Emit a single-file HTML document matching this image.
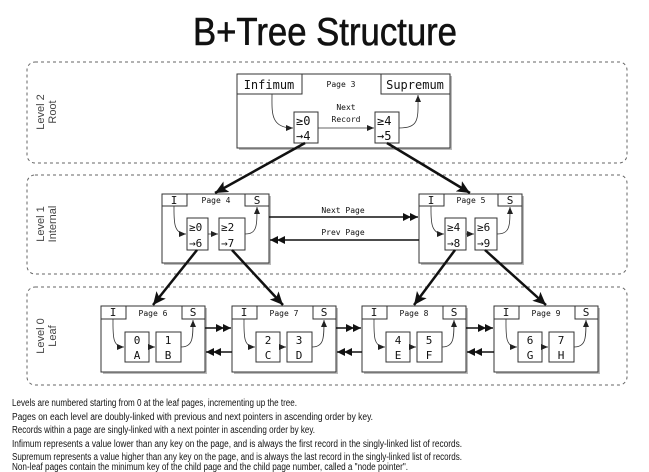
<!DOCTYPE html>
<html><head><meta charset="utf-8"><style>
html,body{margin:0;padding:0;background:#fff;}
svg{display:block;}
.m{font-family:"DejaVu Sans Mono","Liberation Mono",monospace;}
.s{font-family:"Liberation Sans",sans-serif;}
</style></head><body>
<svg width="649" height="472" viewBox="0 0 649 472" xmlns="http://www.w3.org/2000/svg">
<defs>
<marker id="a" markerWidth="8" markerHeight="8" refX="7" refY="4" orient="auto" markerUnits="userSpaceOnUse"><path d="M0,1 L7,4 L0,7 z" fill="#222"/></marker>
<marker id="b" markerWidth="14" markerHeight="14" refX="13" refY="6" orient="auto" markerUnits="userSpaceOnUse"><path d="M0,0 L13,6 L0,12 L3,6 z" fill="#111"/></marker>
<marker id="d" markerWidth="16" markerHeight="10" refX="15" refY="4" orient="auto" markerUnits="userSpaceOnUse"><path d="M0,0 L8,4 L0,8 z M7,0 L15,4 L7,8 z" fill="#111"/></marker>
</defs>
<text x="193" y="45" class="s" font-size="39" fill="#111" stroke="#111" stroke-width="0.6" textLength="264" lengthAdjust="spacingAndGlyphs">B+Tree Structure</text>

<g fill="none" stroke="#666" stroke-dasharray="3,3" stroke-width="1">
<rect x="27" y="62" width="600" height="101" rx="8"/>
<rect x="27" y="175" width="600" height="99" rx="8"/>
<rect x="27" y="287" width="600" height="98" rx="8"/>
</g>
<g class="s" font-size="11" fill="#444" text-anchor="middle">
<text transform="translate(44,112) rotate(-90)">Level 2</text>
<text transform="translate(56,112) rotate(-90)">Root</text>
<text transform="translate(44,224) rotate(-90)">Level 1</text>
<text transform="translate(56,224) rotate(-90)">Internal</text>
<text transform="translate(44,336) rotate(-90)">Level 0</text>
<text transform="translate(56,336) rotate(-90)">Leaf</text>
</g>

<g stroke="#333" stroke-width="1" fill="#fff">
<rect x="239" y="76" width="213" height="74" fill="#bbb" stroke="none"/>
<rect x="237" y="74" width="213" height="74"/>
<rect x="237" y="74" width="65" height="20"/>
<rect x="381" y="74" width="69" height="20"/>
<rect x="294" y="112" width="24" height="31"/>
<rect x="375" y="112" width="24" height="31"/>
<rect x="164" y="196" width="107" height="69" fill="#bbb" stroke="none"/>
<rect x="162" y="194" width="107" height="69"/>
<rect x="162" y="194" width="25" height="12"/>
<rect x="245" y="194" width="24" height="12"/>
<rect x="187" y="218" width="21" height="32"/>
<rect x="219" y="218" width="26" height="32"/>
<rect x="421" y="196" width="103" height="69" fill="#bbb" stroke="none"/>
<rect x="419" y="194" width="103" height="69"/>
<rect x="419" y="194" width="25" height="12"/>
<rect x="498" y="194" width="24" height="12"/>
<rect x="445" y="218" width="21" height="32"/>
<rect x="475" y="218" width="22" height="32"/>
</g>
<g class="m" fill="#111">
<text x="269" y="89" font-size="12" text-anchor="middle">Infimum</text>
<text x="415" y="89" font-size="12" text-anchor="middle">Supremum</text>
<text x="341" y="87" font-size="8" text-anchor="middle">Page 3</text>
<text x="346" y="110" font-size="8" text-anchor="middle">Next</text>
<text x="346" y="122" font-size="8" text-anchor="middle">Record</text>
<text x="296" y="125" font-size="12">≥0</text><text x="296" y="140" font-size="12">→4</text>
<text x="377" y="125" font-size="12">≥4</text><text x="377" y="140" font-size="12">→5</text>
<text x="174" y="204" font-size="11" text-anchor="middle">I</text>
<text x="257" y="204" font-size="11" text-anchor="middle">S</text>
<text x="216" y="203" font-size="8" text-anchor="middle">Page 4</text>
<text x="189" y="231" font-size="11">≥0</text><text x="189" y="247" font-size="11">→6</text>
<text x="221" y="231" font-size="11">≥2</text><text x="221" y="247" font-size="11">→7</text>
<text x="431" y="204" font-size="11" text-anchor="middle">I</text>
<text x="510" y="204" font-size="11" text-anchor="middle">S</text>
<text x="471" y="203" font-size="8" text-anchor="middle">Page 5</text>
<text x="447" y="231" font-size="11">≥4</text><text x="447" y="247" font-size="11">→8</text>
<text x="477" y="231" font-size="11">≥6</text><text x="477" y="247" font-size="11">→9</text>
<text x="343" y="213" font-size="8" text-anchor="middle">Next Page</text>
<text x="343" y="235" font-size="8" text-anchor="middle">Prev Page</text>
</g>

<g stroke="#333" stroke-width="1" fill="#fff">
<rect x="103" y="308" width="104" height="66" fill="#bbb" stroke="none"/>
<rect x="101" y="306" width="104" height="66"/>
<rect x="101" y="306" width="25" height="13"/><rect x="182" y="306" width="23" height="13"/>
<rect x="125" y="332" width="24" height="30"/><rect x="156" y="332" width="25" height="30"/>
<rect x="234" y="308" width="104" height="66" fill="#bbb" stroke="none"/>
<rect x="232" y="306" width="104" height="66"/>
<rect x="232" y="306" width="25" height="13"/><rect x="313" y="306" width="23" height="13"/>
<rect x="256" y="332" width="24" height="30"/><rect x="287" y="332" width="25" height="30"/>
<rect x="364" y="308" width="104" height="66" fill="#bbb" stroke="none"/>
<rect x="362" y="306" width="104" height="66"/>
<rect x="362" y="306" width="25" height="13"/><rect x="443" y="306" width="23" height="13"/>
<rect x="386" y="332" width="24" height="30"/><rect x="417" y="332" width="25" height="30"/>
<rect x="496" y="308" width="104" height="66" fill="#bbb" stroke="none"/>
<rect x="494" y="306" width="104" height="66"/>
<rect x="494" y="306" width="25" height="13"/><rect x="575" y="306" width="23" height="13"/>
<rect x="518" y="332" width="24" height="30"/><rect x="549" y="332" width="25" height="30"/>
</g>
<g class="m" fill="#111" font-size="11" text-anchor="middle">
<text x="113" y="316">I</text><text x="193" y="316">S</text><text x="153" y="316" font-size="8">Page 6</text>
<text x="137" y="344">0</text><text x="137" y="359">A</text><text x="168" y="344">1</text><text x="168" y="359">B</text>
<text x="244" y="316">I</text><text x="324" y="316">S</text><text x="284" y="316" font-size="8">Page 7</text>
<text x="268" y="344">2</text><text x="268" y="359">C</text><text x="299" y="344">3</text><text x="299" y="359">D</text>
<text x="374" y="316">I</text><text x="454" y="316">S</text><text x="414" y="316" font-size="8">Page 8</text>
<text x="398" y="344">4</text><text x="398" y="359">E</text><text x="429" y="344">5</text><text x="429" y="359">F</text>
<text x="506" y="316">I</text><text x="586" y="316">S</text><text x="546" y="316" font-size="8">Page 9</text>
<text x="530" y="344">6</text><text x="530" y="359">G</text><text x="561" y="344">7</text><text x="561" y="359">H</text>
</g>

<g fill="none" stroke="#333" stroke-width="0.8" marker-end="url(#a)">
<path d="M272,94 C272,112 270,128 293,128"/>
<path d="M318,128 L374,128"/>
<path d="M399,128 C420,128 418,118 418,95"/>
<path d="M174,206 C174,220 173,234 186,234"/>
<path d="M208,234 L218,234"/>
<path d="M245,234 C257,234 257,226 257,207"/>
<path d="M431,206 C431,220 430,234 444,234"/>
<path d="M466,234 L474,234"/>
<path d="M497,234 C510,234 510,226 510,207"/>
<path d="M113,319 C113,335 112,347 124,347"/><path d="M149,347 L155,347"/><path d="M181,347 C193,347 193,338 193,320"/>
<path d="M244,319 C244,335 243,347 255,347"/><path d="M280,347 L286,347"/><path d="M312,347 C324,347 324,338 324,320"/>
<path d="M374,319 C374,335 373,347 385,347"/><path d="M410,347 L416,347"/><path d="M442,347 C454,347 454,338 454,320"/>
<path d="M506,319 C506,335 505,347 517,347"/><path d="M542,347 L548,347"/><path d="M574,347 C586,347 586,338 586,320"/>
</g>

<g stroke="#111" stroke-width="1.5" marker-end="url(#d)">
<line x1="269" y1="217" x2="418" y2="217"/>
<line x1="419" y1="240" x2="270" y2="240"/>
<line x1="205" y1="328" x2="231" y2="328"/><line x1="232" y1="352" x2="206" y2="352"/>
<line x1="336" y1="328" x2="361" y2="328"/><line x1="362" y1="352" x2="337" y2="352"/>
<line x1="466" y1="328" x2="493" y2="328"/><line x1="494" y1="352" x2="467" y2="352"/>
</g>

<g stroke="#111" stroke-width="2.5" marker-end="url(#b)">
<line x1="305" y1="143" x2="215" y2="193"/>
<line x1="387" y1="143" x2="470" y2="193"/>
<line x1="197" y1="250" x2="153" y2="305"/>
<line x1="232" y1="250" x2="283" y2="305"/>
<line x1="455" y1="250" x2="414" y2="305"/>
<line x1="485" y1="250" x2="546" y2="305"/>
</g>

<g class="s" font-size="10" fill="#111">
<text x="12" y="406" textLength="285" lengthAdjust="spacingAndGlyphs">Levels are numbered starting from 0 at the leaf pages, incrementing up the tree.</text>
<text x="12" y="420" textLength="361" lengthAdjust="spacingAndGlyphs">Pages on each level are doubly-linked with previous and next pointers in ascending order by key.</text>
<text x="12" y="433" textLength="303" lengthAdjust="spacingAndGlyphs">Records within a page are singly-linked with a next pointer in ascending order by key.</text>
<text x="12" y="447" textLength="450" lengthAdjust="spacingAndGlyphs">Infimum represents a value lower than any key on the page, and is always the first record in the singly-linked list of records.</text>
<text x="12" y="460" textLength="450" lengthAdjust="spacingAndGlyphs">Supremum represents a value higher than any key on the page, and is always the last record in the singly-linked list of records.</text>
<text x="12" y="470" textLength="396" lengthAdjust="spacingAndGlyphs">Non-leaf pages contain the minimum key of the child page and the child page number, called a "node pointer".</text>
</g>
</svg>
</body></html>
